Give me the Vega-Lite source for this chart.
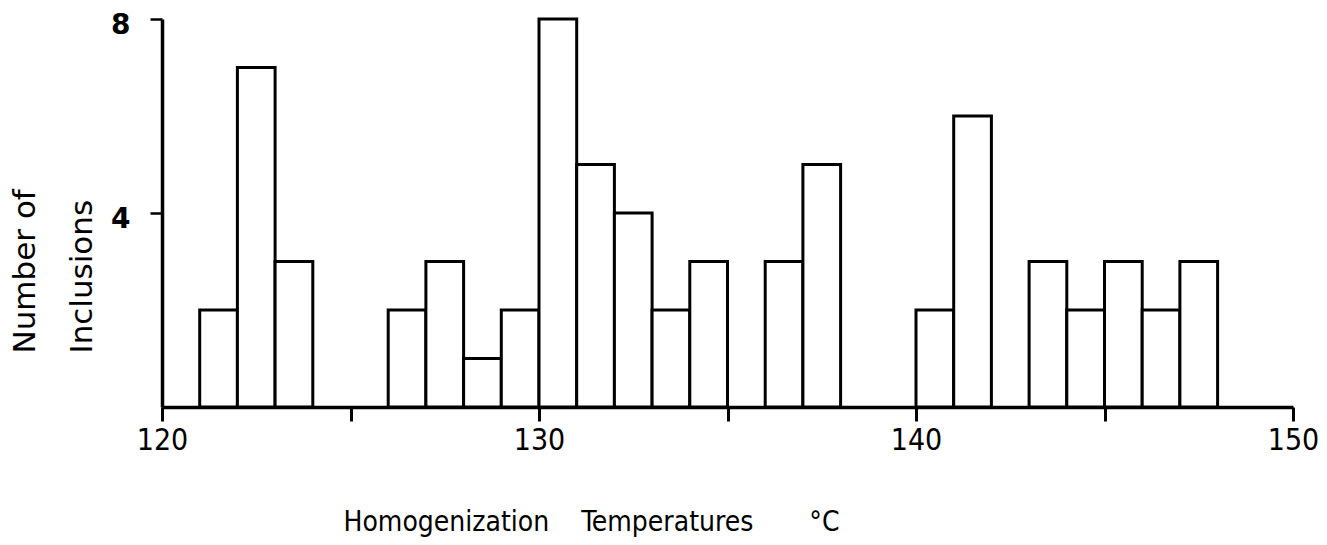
{
  "$schema": "https://vega.github.io/schema/vega-lite/v6.json",
  "width": 1131,
  "height": 388,
  "autosize": "none",
  "padding": {"left": 162, "top": 19, "right": 34, "bottom": 138},
  "background": "white",
  "config": {"view": {"stroke": null}},
  "data": {
    "values": [
      {"start": 121, "end": 122, "count": 2},
      {"start": 122, "end": 123, "count": 7},
      {"start": 123, "end": 124, "count": 3},
      {"start": 126, "end": 127, "count": 2},
      {"start": 127, "end": 128, "count": 3},
      {"start": 128, "end": 129, "count": 1},
      {"start": 129, "end": 130, "count": 2},
      {"start": 130, "end": 131, "count": 8},
      {"start": 131, "end": 132, "count": 5},
      {"start": 132, "end": 133, "count": 4},
      {"start": 133, "end": 134, "count": 2},
      {"start": 134, "end": 135, "count": 3},
      {"start": 136, "end": 137, "count": 3},
      {"start": 137, "end": 138, "count": 5},
      {"start": 140, "end": 141, "count": 2},
      {"start": 141, "end": 142, "count": 6},
      {"start": 143, "end": 144, "count": 3},
      {"start": 144, "end": 145, "count": 2},
      {"start": 145, "end": 146, "count": 3},
      {"start": 146, "end": 147, "count": 2},
      {"start": 147, "end": 148, "count": 3}
    ]
  },
  "mark": {"type": "bar", "fill": "white", "stroke": "black", "strokeWidth": 3, "strokeJoin": "miter"},
  "encoding": {
    "x": {
      "field": "start",
      "type": "quantitative",
      "scale": {"domain": [120, 150], "nice": false, "zero": false},
      "axis": {
        "values": [120, 125, 130, 135, 140, 145, 150],
        "labelExpr": "datum.value % 10 == 0 ? datum.label : ''",
        "grid": false,
        "domainColor": "black",
        "domainWidth": 3.5,
        "tickColor": "black",
        "tickWidth": 3,
        "tickSize": 14,
        "labelFont": "DejaVu Sans Condensed",
        "labelFontSize": 30,
        "labelColor": "black",
        "labelPadding": 4,
        "labelFlush": false,
        "title": "Homogenization\u00a0\u00a0\u00a0\u00a0Temperatures\u00a0\u00a0\u00a0\u00a0\u00a0\u00a0\u00a0°C",
        "titleFont": "DejaVu Sans Condensed",
        "titleFontSize": 28,
        "titleFontWeight": "normal",
        "titleColor": "black",
        "titleX": 181,
        "titleY": 123,
        "titleAlign": "left",
        "titleBaseline": "alphabetic"
      }
    },
    "x2": {"field": "end"},
    "y": {
      "field": "count",
      "type": "quantitative",
      "scale": {"domain": [0, 8], "nice": false},
      "axis": {
        "values": [4, 8],
        "grid": false,
        "domainColor": "black",
        "domainWidth": 3.5,
        "tickColor": "black",
        "tickWidth": 2.5,
        "tickSize": 12,
        "labelFont": "DejaVu Sans",
        "labelFontWeight": "bold",
        "labelFontSize": 28,
        "labelColor": "black",
        "labelPadding": 20,
        "labelOffset": 6,
        "title": ["Number of", "Inclusions"],
        "titleFont": "DejaVu Sans",
        "titleFontSize": 31,
        "titleFontWeight": "normal",
        "titleColor": "black",
        "titleAngle": 270,
        "titleAlign": "left",
        "titleBaseline": "top",
        "titleX": -152,
        "titleY": 334,
        "titleLineHeight": 57
      }
    },
    "y2": {"datum": 0}
  }
}
